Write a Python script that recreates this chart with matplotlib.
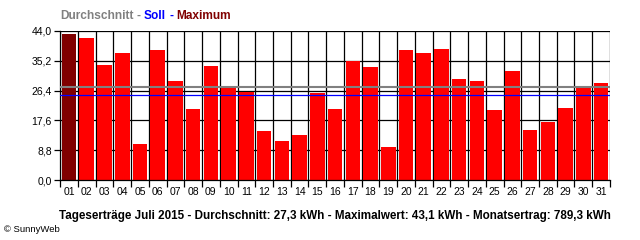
import matplotlib
matplotlib.use("Agg")
import matplotlib.pyplot as plt
import numpy as np

# daily yield July 2015 (kWh)
days = ["%02d" % d for d in range(1, 32)]
ertrag = [43.1, 41.9, 33.9, 37.4, 10.7, 38.3, 29.2, 20.9, 33.6, 27.6,
          26.1, 14.6, 11.6, 13.4, 25.8, 20.9, 35.1, 33.3, 9.8, 38.3,
          37.4, 38.6, 29.8, 29.2, 20.6, 32.1, 14.8, 17.2, 21.3, 27.7, 28.6]
durchschnitt = 27.3
soll = 25.0
y_ticks = [0.0, 8.8, 17.6, 26.4, 35.2, 44.0]

plt.rcParams["font.family"] = ["Liberation Sans", "DejaVu Sans"]

fig = plt.figure(figsize=(6.4, 2.4), dpi=100)
ax = fig.add_axes([0.094, 0.249, 0.859, 0.623])

x = np.arange(len(days))
imax = int(np.argmax(ertrag))
colors = ["#800000" if i == imax else "#ff0000" for i in range(len(days))]

# grid first, bars on top
for yt in y_ticks:
    ax.axhline(yt, color="black", lw=0.9, zorder=1)
for b in np.arange(-0.5, len(days), 1.0):
    ax.axvline(b, color="black", lw=0.9, zorder=1)

ax.bar(x, ertrag, width=0.82, color=colors, zorder=2)
ax.axhline(durchschnitt, color="#808080", lw=1.5, zorder=3)
ax.axhline(soll, color="#0000ff", lw=0.9, zorder=3)

ax.set_xlim(-0.5, len(days) - 0.5)
ax.set_ylim(0, 44)
ax.set_yticks(y_ticks)
ax.set_yticklabels([("%.1f" % v).replace(".", ",") for v in y_ticks], fontsize=7.5)
ax.set_xticks(np.arange(-0.5, len(days), 1.0))
ax.set_xticklabels([])
ax.set_xticks(x, minor=True)
ax.set_xticklabels(days, minor=True, fontsize=7.5)
ax.tick_params(axis="x", which="major", length=5, width=0.9)
ax.tick_params(axis="x", which="minor", length=0, pad=5)
ax.tick_params(axis="y", length=4, width=0.9, pad=2)
for s in ["top", "right"]:
    ax.spines[s].set_visible(False)
ax.spines["left"].set_linewidth(0.9)
ax.spines["bottom"].set_linewidth(0.9)

# coloured header built from pieces
renderer = fig.canvas.get_renderer()
pieces = [("Durchschnitt", "#808080"), ("-", "#808080"), ("Soll", "#0000ff"),
          ("-", "#0000ff"), ("Maximum", "#800000")]
hdr_kw = dict(fontsize=8.6, fontweight="bold", va="center", ha="left")
x0 = 60
prefix = ""
for i, (txt, col) in enumerate(pieces):
    prefix = txt if i == 0 else prefix + " " + txt
    full = fig.text(0, 0, prefix, **hdr_kw)
    w_full = full.get_window_extent(renderer).width
    part = fig.text(0, 0, txt, **hdr_kw)
    w_part = part.get_window_extent(renderer).width
    full.remove()
    part.remove()
    fig.text((x0 + w_full - w_part) / 640, 1 - 16 / 240, txt, color=col, **hdr_kw)

fig.text(335 / 640, 1 - 216 / 240,
         "Tageserträge Juli 2015 - Durchschnitt: 27,3 kWh - Maximalwert: 43,1 kWh - Monatsertrag: 789,3 kWh",
         fontsize=8.4, fontweight="bold", ha="center", va="center")
fig.text(4 / 640, 1 - 229 / 240, "© SunnyWeb", fontsize=6.8, ha="left", va="center")

fig.savefig("out.png", dpi=100)
